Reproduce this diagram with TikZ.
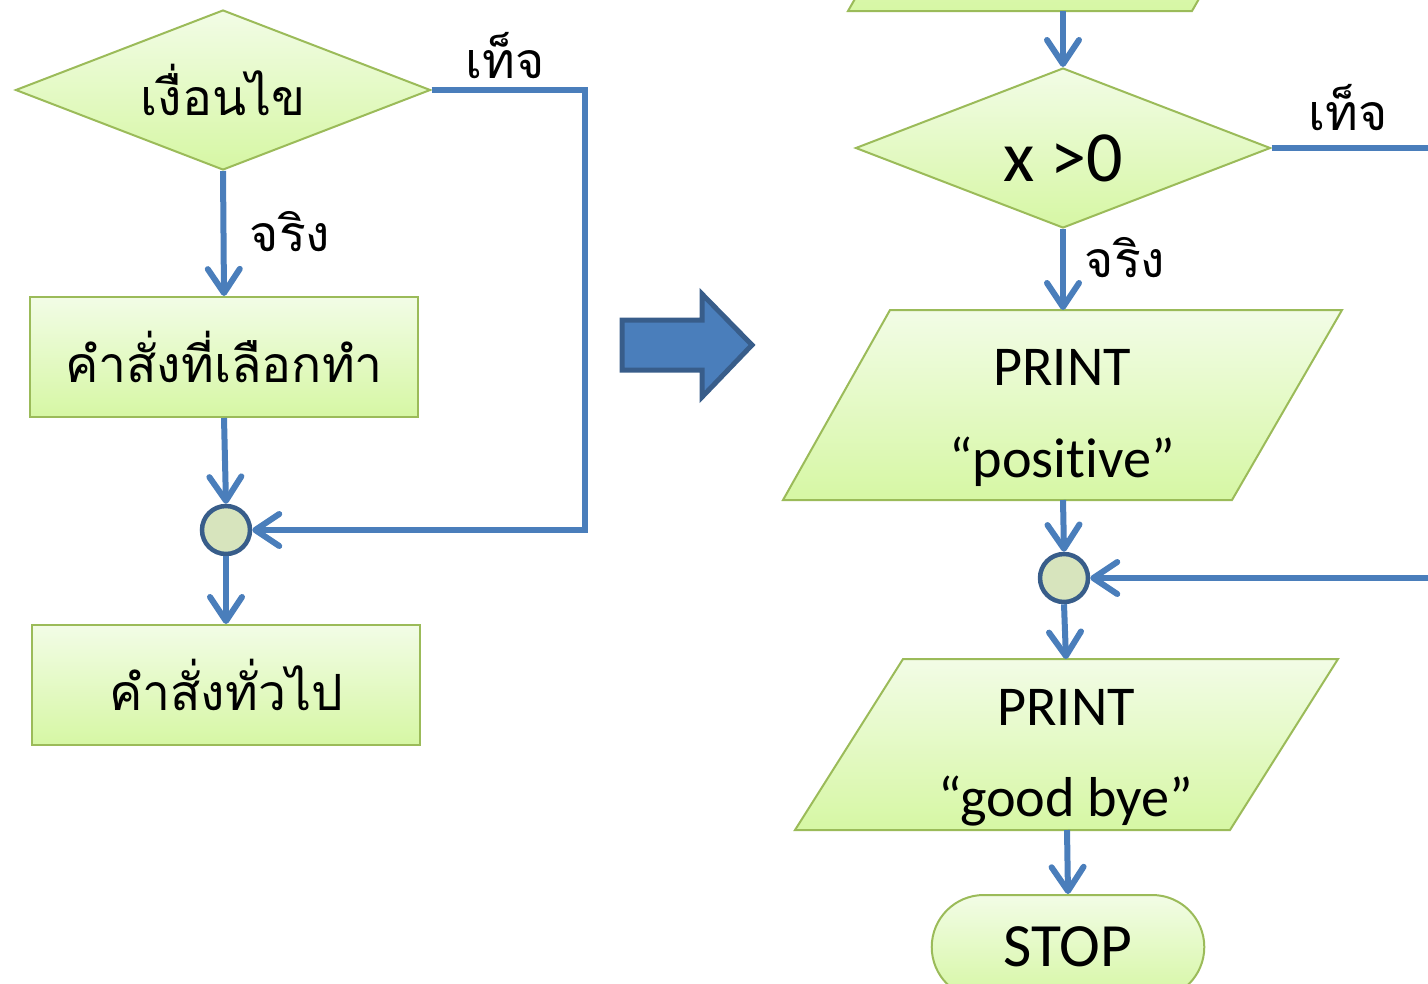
\documentclass[tikz,border=0pt]{standalone}
\usepackage{fontspec}
\setmainfont[Ligatures=NoCommon]{Carlito}
\newfontfamily\thaifont[Script=Thai]{Loma}
\usetikzlibrary{shapes.geometric,shapes.misc,arrows.meta}
\definecolor{boxtop}{HTML}{F2FCE6}
\definecolor{boxbot}{HTML}{D6F7A4}
\definecolor{boxline}{HTML}{9BBB59}
\definecolor{flow}{HTML}{4A7EBB}
\definecolor{joinline}{HTML}{385D8A}
\definecolor{joinfill}{HTML}{D7E4BD}
\newcommand{\thtxt}{\thaifont\fontsize{14.2}{17}\selectfont}
\newcommand{\entxt}{\fontsize{16}{19.2}\selectfont}

\begin{document}
\begin{tikzpicture}[x=0.1mm,y=-0.1mm,
    flowbox/.style={draw=boxline,line width=0.2mm,top color=boxtop,bottom color=boxbot},
    cond/.style={flowbox,diamond,aspect=2.6,minimum width=41.5mm,minimum height=16mm,inner sep=0pt},
    stmt/.style={flowbox,rectangle,minimum width=38.8mm,minimum height=12mm},
    joinpt/.style={circle,draw=joinline,fill=joinfill,line width=0.45mm,minimum size=4.8mm,inner sep=0pt},
    flowline/.style={draw=flow,line width=0.6mm},
    flowarrow/.style={flowline,-{Straight Barb[length=2.4mm,width=3.2mm,round]}}]
    \useasboundingbox (0,0) rectangle (1428,983);
    \clip (0,0) rectangle (1428,983);
    % left: general form
    \node[cond] (cond) at (223,90) {\thtxt เงื่อนไข};
    \node[stmt] (choice) at (224,357) {\thtxt คำสั่งที่เลือกทำ};
    \node[joinpt] (joinL) at (226,530) {};
    \node[stmt] (general) at (226,685) {\thtxt คำสั่งทั่วไป};
    \node (trueL) at (290,232) {\thtxt จริง};
    \node (falseL) at (505,56) {\thtxt เท็จ};
    \draw[flowarrow] (cond.south) -- (choice.north);
    \draw[flowarrow] (choice.south) -- (joinL.north);
    \draw[flowarrow] (joinL.south) -- (general.north);
    \draw[flowarrow] (cond.east) -- ++(153,0) |- (joinL.east);
    % big arrow
    \draw[fill=flow,draw=joinline,line width=0.5mm] (622,320) -- (702,320) -- (702,294) -- (752,345)
        -- (702,397) -- (702,370) -- (622,370) -- cycle;
    % right: example
    \draw[flowbox] (848,11) -- (1192,11) -- (1290,-160) -- (946,-160) -- cycle;
    \coordinate (inB) at (1063,11);
    \node[cond] (test) at (1063,148) {};
    \node (testtxt) at (1063,158) {\fontsize{20.5}{24}\selectfont x >0};
    \draw[flowbox] (890,310) -- (1342,310) -- (1232,500) -- (783,500) -- cycle;
    \coordinate (posT) at (1063,310);
    \coordinate (posB) at (1063,500);
    \node[align=center] (pos) at (1062,418) {\entxt PRINT\\[14pt]\entxt “positive”};
    \node[joinpt] (joinR) at (1064,578) {};
    \draw[flowbox] (903,659) -- (1338,659) -- (1230,830) -- (795,830) -- cycle;
    \coordinate (byeT) at (1066,659);
    \coordinate (byeB) at (1067,830);
    \node[align=center] (bye) at (1066,758) {\entxt PRINT\\[14pt]\entxt “good bye”};
    \node[flowbox,rounded rectangle,minimum width=29.6mm,minimum height=10.4mm] (stop) at (1068,947) {\fontsize{17.5}{21}\selectfont STOP};
    \node (trueR) at (1125,258) {\thtxt จริง};
    \node (falseR) at (1348,108) {\thtxt เท็จ};
    \coordinate (outR) at (1440,148);
    \coordinate (backR) at (1440,578);
    \draw[flowarrow] (inB) -- (test.north);
    \draw[flowarrow] (test.south) -- (posT);
    \draw[flowline] (test.east) -- (outR);
    \draw[flowarrow] (posB) -- (joinR.north);
    \draw[flowarrow] (backR) -- (joinR.east);
    \draw[flowarrow] (joinR.south) -- (byeT);
    \draw[flowarrow] (byeB) -- (stop.north);
\end{tikzpicture}
\end{document}
